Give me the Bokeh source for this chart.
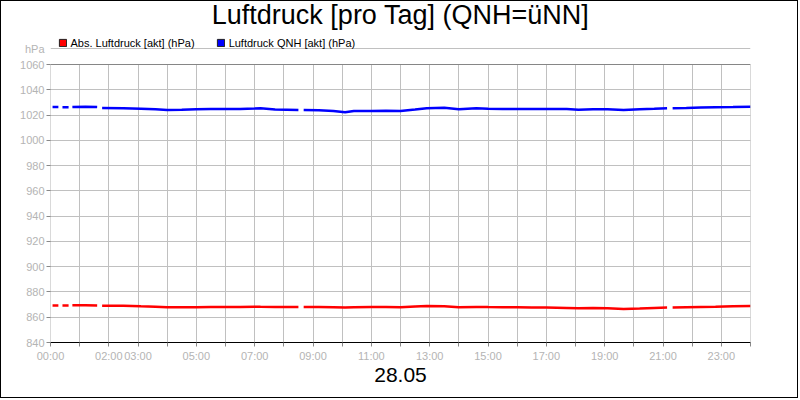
import numpy as np
from bokeh.plotting import figure
from bokeh.models import (Range1d, FixedTicker, Legend, LegendItem, Label,
                          BoxAnnotation, ColumnDataSource)
from bokeh.embed import file_html
from bokeh.resources import INLINE

FONT = "Liberation Sans"
GRAY = "#b4b4b4"
nan = np.nan

# hours of the day (28.05), nan marks a break in the recording
hours = [0.07, 0.27, 0.34, 0.41, 0.62, 0.68, 0.75, 1.2, 1.6, 1.68, 1.77, 2.5,
         3.1, 3.6, 4.0, 4.5, 5.0, 5.5, 6.0, 6.5, 7.0, 7.2, 7.7, 8.1, 8.5, 8.59,
         8.68, 9.2, 9.7, 10.1, 10.4, 11.0, 11.5, 12.0, 12.5, 12.9, 13.5, 14.0,
         14.6, 15.0, 15.5, 16.0, 16.5, 17.0, 17.7, 18.1, 18.6, 19.1, 19.65,
         20.2, 20.7, 21.14, 21.24, 21.33, 21.8, 22.3, 22.8, 23.4, 24.0]

qnh = [1026.3, 1026.3, nan, 1026.2, 1026.2, nan, 1026.3, 1026.6, 1026.3, nan,
       1025.6, 1025.4, 1025.0, 1024.6, 1024.0, 1024.2, 1024.6, 1024.8, 1024.7,
       1024.8, 1025.1, 1025.3, 1024.4, 1024.2, 1024.0, nan, 1023.9, 1023.7,
       1023.2, 1022.2, 1023.2, 1023.3, 1023.4, 1023.2, 1024.3, 1025.3, 1025.7,
       1024.6, 1025.4, 1024.9, 1024.7, 1024.8, 1024.7, 1024.8, 1024.7, 1024.2,
       1024.5, 1024.6, 1024.0, 1024.5, 1024.9, 1025.3, nan, 1025.3, 1025.6,
       1026.0, 1026.2, 1026.3, 1026.5]

absolut = [869.3, 869.3, nan, 869.2, 869.2, nan, 869.4, 869.4, 869.3, nan,
           869.1, 869.0, 868.6, 868.3, 867.9, 867.9, 867.9, 868.0, 868.0,
           868.1, 868.3, 868.2, 868.1, 868.0, 868.0, nan, 868.1, 868.0, 867.9,
           867.6, 867.9, 868.0, 868.0, 867.9, 868.4, 868.8, 868.7, 867.9,
           868.1, 868.0, 867.9, 867.8, 867.7, 867.6, 867.4, 867.1, 867.3,
           867.2, 866.6, 867.0, 867.4, 867.6, nan, 867.7, 867.9, 868.1, 868.3,
           868.6, 868.8]

x_ticks = list(range(25))
x_labels = {0: "00:00", 2: "02:00", 3: "03:00", 5: "05:00", 7: "07:00",
            9: "09:00", 11: "11:00", 13: "13:00", 15: "15:00", 17: "17:00",
            19: "19:00", 21: "21:00", 23: "23:00"}
y_ticks = list(range(840, 1061, 20))
y_lo, y_hi = 840, 1060

# plot area is 278 px for 220 hPa; the frame reaches up to hold title and legend
PX = 278 / 220
UNIT_Y = y_hi + 16 / PX      # where the "hPa" unit sits
TOP_Y = y_hi + 62 / PX

p = figure(width=798, height=398, output_backend="svg", toolbar_location=None,
           x_range=Range1d(0, 24), y_range=Range1d(y_lo, TOP_Y),
           min_border_left=49, min_border_right=49, min_border_top=1,
           min_border_bottom=57)
p.styles = {"border": "1px solid black"}
p.outline_line_color = None

# x axis
xa = p.xaxis[0]
xa.ticker = FixedTicker(ticks=x_ticks)
xa.major_label_overrides = {h: x_labels.get(h, "") for h in x_ticks}
xa.axis_line_color = "black"
xa.major_tick_out = 4
xa.major_tick_in = 0
xa.major_tick_line_color = "#888888"
xa.major_label_standoff = 3
xa.axis_label = "28.05"
xa.axis_label_text_font = FONT
xa.axis_label_text_font_size = "21px"
xa.axis_label_text_font_style = "normal"
xa.axis_label_text_color = "black"
xa.axis_label_standoff = 3

# y axis: gridded ticks as minor ticks, the unit as its only major label
ya = p.yaxis[0]
ya.ticker = FixedTicker(ticks=y_ticks + [UNIT_Y], minor_ticks=y_ticks)
ya.major_label_overrides = {UNIT_Y: "hPa"}
ya.axis_line_color = None
ya.major_tick_out = 0
ya.major_tick_in = 0
ya.minor_tick_out = 4
ya.minor_tick_in = 0
ya.minor_tick_line_color = "#888888"
ya.major_label_standoff = 2

for ax in (xa, ya):
    ax.major_label_text_font = FONT
    ax.major_label_text_font_size = "11px"
    ax.major_label_text_color = GRAY

p.xgrid.grid_line_color = "#c0c0c0"
p.xgrid.cross_bounds = (y_lo, y_hi)
p.ygrid.grid_line_color = "#c0c0c0"
p.ygrid.bounds = (y_lo, y_hi)

p.add_layout(BoxAnnotation(left=0, right=24, bottom=y_lo, top=y_hi,
                           fill_alpha=0, line_color="black", line_width=1))

src = ColumnDataSource(dict(h=hours, qnh=qnh, absolut=absolut))
p.line("h", "absolut", source=src, color="#ff0000", line_width=2.5)
p.line("h", "qnh", source=src, color="#0000ff", line_width=2.5)

# square swatches for the legend: zero-sized quads, only the legend shows them
sw_red = p.quad(left="h", right="h", top="absolut", bottom="absolut",
                source=src, fill_color="#ff0000", line_color="#202020")
sw_blue = p.quad(left="h", right="h", top="qnh", bottom="qnh",
                 source=src, fill_color="#0000ff", line_color="#202020")
legend = Legend(items=[LegendItem(label="Abs. Luftdruck [akt] (hPa)", renderers=[sw_red]),
                       LegendItem(label="Luftdruck QNH [akt] (hPa)", renderers=[sw_blue])],
                orientation="horizontal", location=(7.5, 293.5),
                glyph_width=9, glyph_height=9, label_height=9,
                label_standoff=4, spacing=21, padding=0, margin=0,
                label_text_font=FONT, label_text_font_size="11px",
                label_text_color="black",
                border_line_alpha=0, background_fill_alpha=0)
p.add_layout(legend, "center")

p.add_layout(Label(x=350, y=328, x_units="screen", y_units="screen",
                   text="Luftdruck [pro Tag] (QNH=üNN]", text_font=FONT,
                   text_font_size="27px", text_color="black",
                   text_align="center", text_baseline="alphabetic"))

open("out.html", "w").write(file_html(p, INLINE))
